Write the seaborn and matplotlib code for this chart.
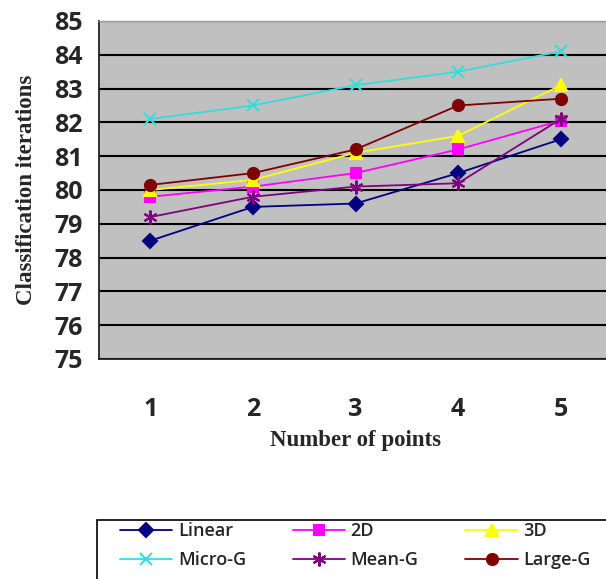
import matplotlib
matplotlib.use("Agg")
import matplotlib.pyplot as plt
import matplotlib.patches as mpatches
import seaborn as sns
import pandas as pd
import numpy as np
from matplotlib.ticker import FixedLocator, NullFormatter

categories = ["1", "2", "3", "4", "5"]
series_names = ["Linear", "2D", "3D", "Micro-G", "Mean-G", "Large-G"]
linear = [78.5, 79.5, 79.6, 80.5, 81.5]
d2 = [79.8, 80.1, 80.5, 81.2, 82.05]
d3 = [80.0, 80.3, 81.1, 81.6, 83.1]
micro_g = [82.1, 82.5, 83.1, 83.5, 84.1]
mean_g = [79.2, 79.8, 80.1, 80.2, 82.1]
large_g = [80.15, 80.5, 81.2, 82.5, 82.7]
yticks = list(range(75, 86))

values = [linear, d2, d3, micro_g, mean_g, large_g]
colors = ["#000080", "#FF00FF", "#FFFF00", "#33DDDD", "#800080", "#800000"]
markers = ["D", "s", "^", "x", (6, 2, 0), "o"]
msizes = [7, 7, 8, 8, 10, 8]

rows = []
for name, vals in zip(series_names, values):
    for i, v in enumerate(vals):
        rows.append({"series": name, "pos": i, "value": v})
df = pd.DataFrame(rows)

sns.set_style("white")
plt.rcParams["font.family"] = ["Open Sans", "DejaVu Sans"]

fig = plt.figure(figsize=(6.06, 5.79), dpi=100)
ax = fig.add_axes([99 / 606, 1 - 359 / 579, 1 - 99 / 606 + 0.01, (359 - 21) / 579])
ax.set_facecolor("#C0C0C0")

for name, col, mk, ms in zip(series_names, colors, markers, msizes):
    sub = df[df["series"] == name]
    sns.lineplot(data=sub, x="pos", y="value", ax=ax, color=col, marker=mk,
                 markersize=ms, markeredgecolor=col, markerfacecolor=col,
                 markeredgewidth=1.5, linewidth=1.3, label=name, legend=False)

ax.set_xlim(-0.5, 4.5)
ax.set_ylim(75, 85)
ax.set_yticks(yticks)
ax.set_yticklabels([str(t) for t in yticks])
ax.yaxis.grid(True, color="black", linewidth=1.5)
ax.set_axisbelow(True)
ax.set_xticks(range(len(categories)))
ax.set_xticklabels(categories)
ax.xaxis.set_minor_locator(FixedLocator(np.arange(-0.5, 5.0, 1.0)))
ax.xaxis.set_minor_formatter(NullFormatter())
ax.tick_params(axis="x", which="major", length=0, pad=27, labelsize=18)
ax.tick_params(axis="x", which="minor", length=8, width=1.2, color="#333333", direction="out")
ax.tick_params(axis="y", which="major", length=8, width=1.2, color="#333333", direction="out", pad=4, labelsize=18)
for lbl in ax.get_xticklabels() + ax.get_yticklabels():
    lbl.set_fontweight("bold")

for s in ["left", "bottom"]:
    ax.spines[s].set_color("#222222")
    ax.spines[s].set_linewidth(1.3)
ax.spines["top"].set_color("#999999")
ax.spines["top"].set_linewidth(1.0)
ax.spines["right"].set_visible(False)

ax.set_xlabel("Number of points", family=["Liberation Serif", "DejaVu Serif"],
              fontweight="bold", fontsize=16.5, labelpad=6)
ax.set_ylabel("Classification iterations", family=["Liberation Serif", "DejaVu Serif"],
              fontweight="bold", fontsize=16.5, labelpad=12)

# legend box (extends past the figure edge as in the reference)
box = mpatches.Rectangle((97 / 606, -0.05), 1.0, (1 - 520 / 579) + 0.05,
                         transform=fig.transFigure, facecolor="white",
                         edgecolor="black", linewidth=1.2, clip_on=False)
fig.patches.append(box)

handles, labels = ax.get_legend_handles_labels()
order = [0, 3, 1, 4, 2, 5]
leg = fig.legend([handles[i] for i in order], [labels[i] for i in order],
                 loc="upper left", bbox_to_anchor=(120 / 606, 1 - 522 / 579),
                 ncol=3, frameon=False,
                 prop={"family": "Open Sans", "weight": "semibold", "size": 13},
                 handlelength=2.9, handletextpad=0.3, labelspacing=0.6,
                 columnspacing=2.6, borderpad=0, borderaxespad=0)

fig.savefig("out.png", dpi=100)
